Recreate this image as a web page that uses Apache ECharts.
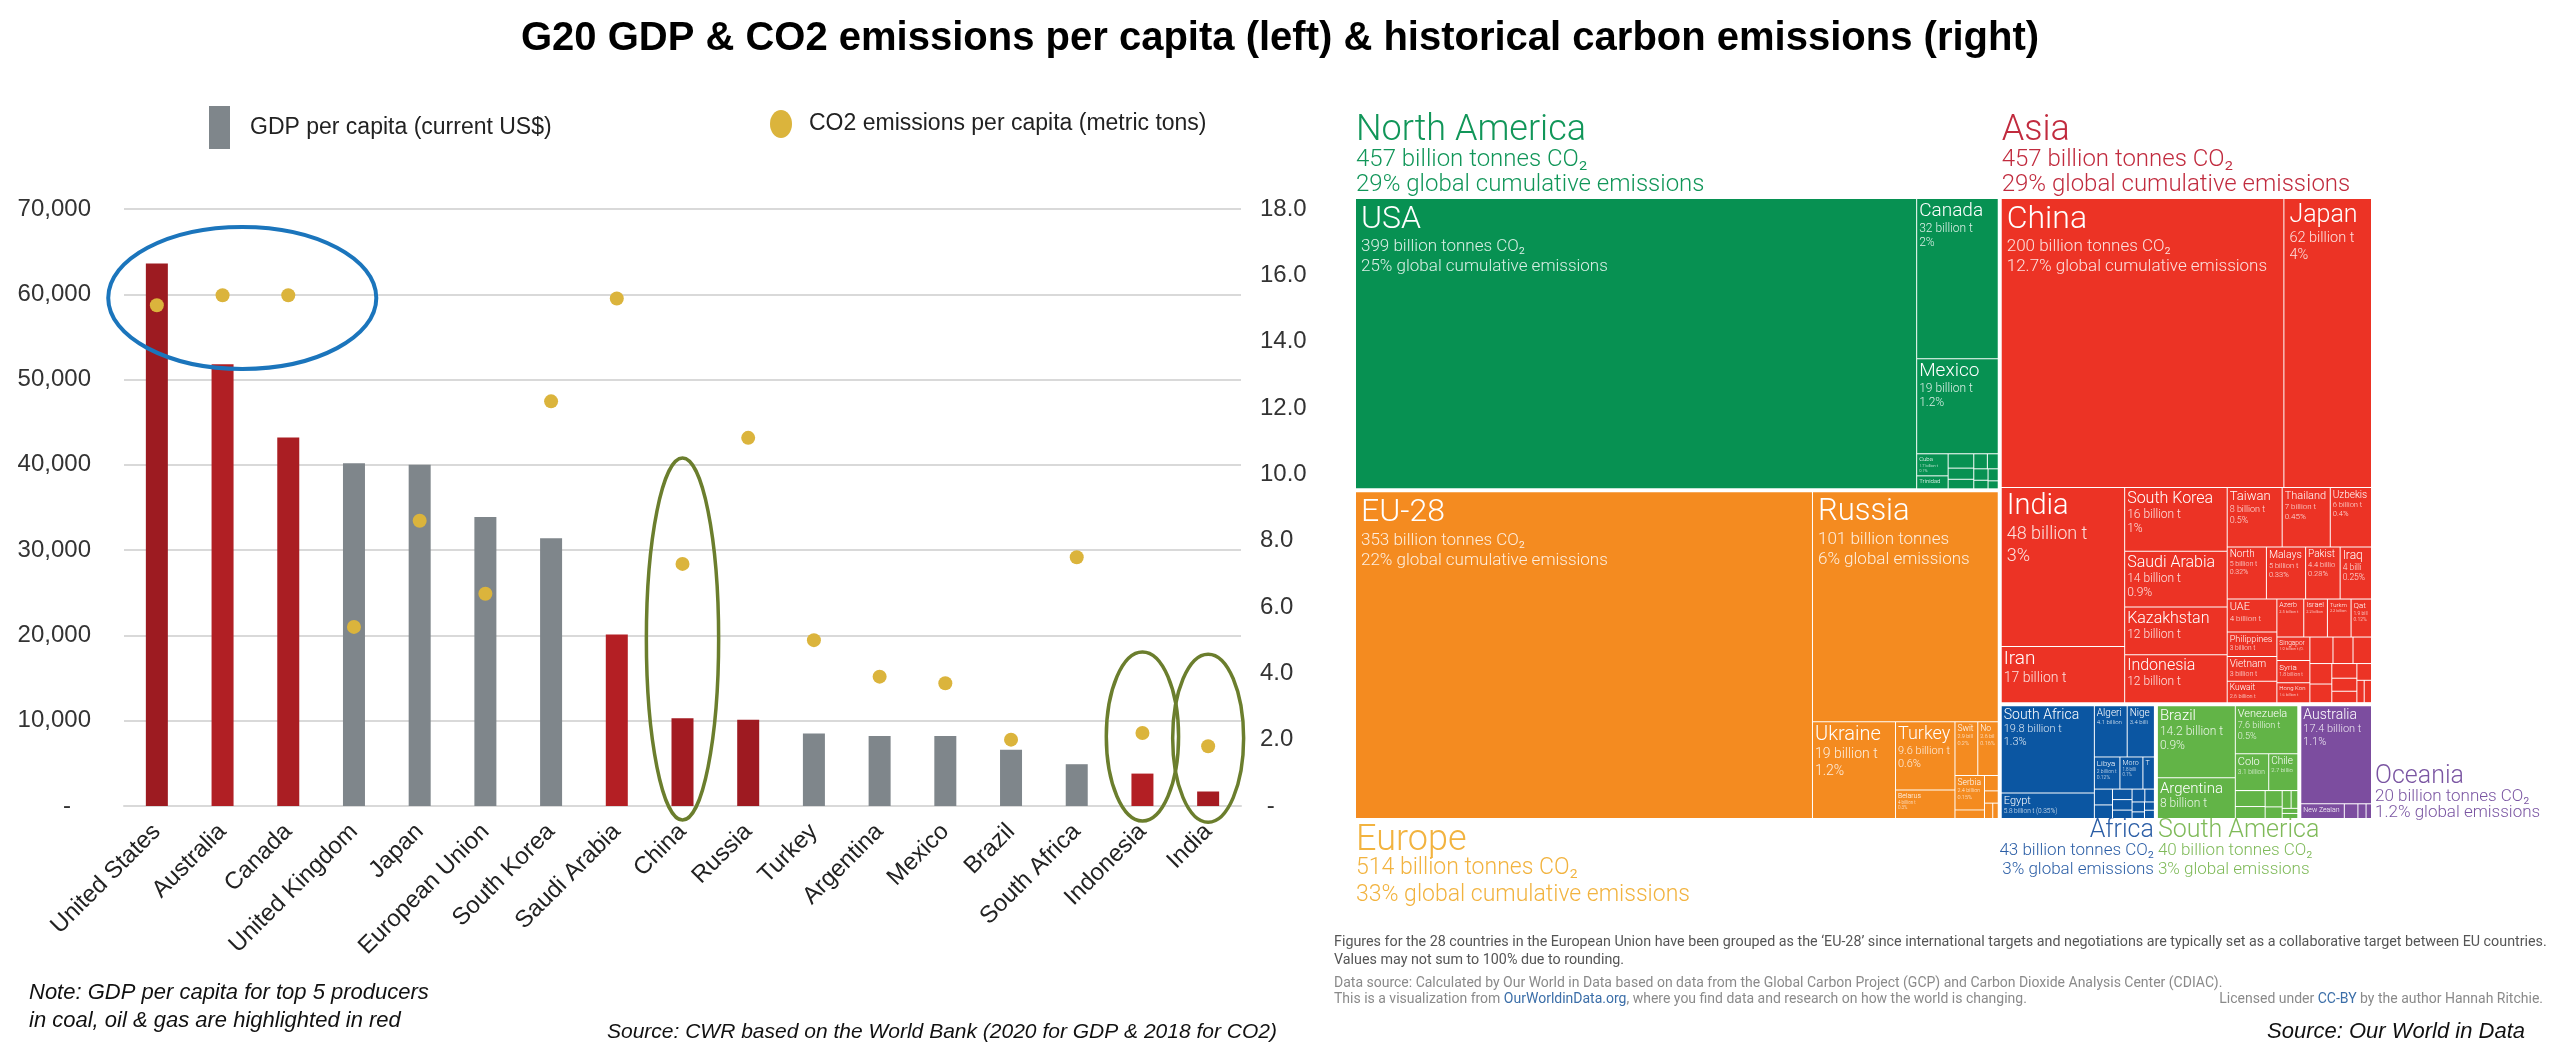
<!DOCTYPE html>
<html>
<head>
<meta charset="utf-8">
<title>G20 GDP & CO2 emissions per capita & historical carbon emissions</title>
<script src="https://cdn.jsdelivr.net/npm/echarts@6/dist/echarts.min.js"></script>
<style>
  html, body { margin: 0; padding: 0; background: #fff; }
  #main { width: 2560px; height: 1057px; }
</style>
</head>
<body>
<div id="main"></div>
<script>
// ---- left chart: G20 GDP & CO2 per capita ----
var countries = ['United States', 'Australia', 'Canada', 'United Kingdom', 'Japan', 'European Union',
  'South Korea', 'Saudi Arabia', 'China', 'Russia', 'Turkey', 'Argentina', 'Mexico', 'Brazil',
  'South Africa', 'Indonesia', 'India'];
var gdpPerCapita = [63600, 51800, 43200, 40200, 40000, 33900, 31400, 20100, 10300, 10100, 8500, 8200, 8200, 6600, 4900, 3800, 1700];
var co2PerCapita = [15.1, 15.4, 15.4, 5.4, 8.6, 6.4, 12.2, 15.3, 7.3, 11.1, 5.0, 3.9, 3.7, 2.0, 7.5, 2.2, 1.8];
// top 5 producers in coal, oil & gas (red bars)
var topProducer = [true, true, true, false, false, false, false, true, true, true, false, false, false, false, false, true, true];
var gdpTicks = [0, 10000, 70000];
var co2Ticks = [0, 2, 18];

// ---- right chart: historical carbon emissions (billion tonnes CO2) ----
var regionNames = ['North America', 'Asia', 'Europe', 'Africa', 'South America', 'Oceania'];
var regionTotals = [457, 457, 514, 43, 40, 20];
var regionLine1 = ['457 billion tonnes CO₂', '457 billion tonnes CO₂', '514 billion tonnes CO₂',
  '43 billion tonnes CO₂', '40 billion tonnes CO₂', '20 billion tonnes CO₂'];
var regionLine2 = ['29% global cumulative emissions', '29% global cumulative emissions', '33% global cumulative emissions',
  '3% global emissions', '3% global emissions', '1.2% global emissions'];

var naNames = ['USA', 'Canada', 'Mexico', 'Cuba', 'Trinidad', '', '', '', '', '', '', '', '', ''];
var naValues = [399, 32, 19, 1.7, 1.0, 0.9, 0.7, 0.6, 0.5, 0.4, 0.4, 0.3, 0.3, 0.2];
var naDetails = ['399 billion tonnes CO₂\n25% global cumulative emissions', '32 billion t\n2%', '19 billion t\n1.2%',
  '1.7 billion t\n0.1%', '1.0 billion t\n0.1%'];

var asiaNames = ['China', 'Japan', 'India', 'Iran', 'South Korea', 'Saudi Arabia', 'Indonesia', 'Kazakhstan',
  'Taiwan', 'Thailand', 'Uzbekistan', 'Malaysia', 'North Korea', 'Pakistan', 'UAE', 'Iraq', 'Vietnam',
  'Philippines', 'Kuwait', 'Azerbaijan', 'Turkmenistan', 'Israel', 'Singapore', 'Qatar', 'Syria', 'Hong Kong',
  '', '', '', '', '', '', '', '', '', '', ''];
var asiaValues = [200, 62, 48, 17, 16, 14, 12, 12, 8, 7, 6, 5, 5, 4.4, 4, 4, 3, 3, 2.6, 2.5, 2.2, 2.2, 1.9, 1.9, 1.8, 1.6,
  1.5, 1.3, 1.2, 1.1, 1.0, 0.9, 0.8, 0.7, 0.6, 0.4, 0.4];
var asiaDetails = ['200 billion tonnes CO₂\n12.7% global cumulative emissions', '62 billion t\n4%', '48 billion t\n3%',
  '17 billion t\n1%', '16 billion t\n1%', '14 billion t\n0.9%', '12 billion t\n0.8%', '12 billion t\n0.8%',
  '8 billion t\n0.5%', '7 billion t\n0.45%', '6 billion t\n0.4%', '5 billion t\n0.33%', '5 billion t\n0.32%',
  '4.4 billion t\n0.28%', '4 billion t\n0.26%', '4 billion t\n0.25%', '3 billion t\n0.2%', '3 billion t\n0.2%',
  '2.6 billion t\n0.17%', '2.5 billion t (0.16%)', '2.2 billion t (0.14%)', '2.2 billion t (0.14%)',
  '1.9 billion t (0.12%)', '1.9 billion t\n0.12%', '1.8 billion t\n0.11%', '1.6 billion t\n0.1%'];

var europeNames = ['EU-28', 'Russia', 'Ukraine', 'Turkey', 'Belarus', 'Switzerland', 'Norway', 'Serbia',
  '', '', '', '', ''];
var europeValues = [353, 101, 19, 9.6, 4, 2.9, 2.6, 2.4, 0.6, 0.5, 0.4, 0.3, 0.2];
var europeDetails = ['353 billion tonnes CO₂\n22% global cumulative emissions', '101 billion tonnes\n6% global emissions',
  '19 billion t\n1.2%', '9.6 billion t\n0.6%', '4 billion t\n0.3%', '2.9 billion t\n0.2%', '2.6 billion t\n0.16%',
  '2.4 billion t\n0.15%'];

var africaNames = ['South Africa', 'Egypt', 'Algeria', 'Nigeria', 'Libya', 'Morocco', 'Tunisia',
  '', '', '', '', '', '', '', '', '', '', ''];
var africaValues = [19.8, 5.8, 4.1, 3.4, 2, 1.8, 0.9, 0.7, 0.6, 0.5, 0.5, 0.4, 0.4, 0.3, 0.3, 0.2, 0.2, 0.2];
var africaDetails = ['19.8 billion t\n1.3%', '5.8 billion t (0.35%)', '4.1 billion t (0.26%)', '3.4 billion t (0.21%)',
  '2 billion t\n0.12%', '1.8 billion t\n0.1%'];

var southAmNames = ['Brazil', 'Argentina', 'Venezuela', 'Colombia', 'Chile', '', '', '', '', '', '', '', ''];
var southAmValues = [14.2, 8, 7.6, 3.1, 2.7, 1.2, 0.9, 0.7, 0.5, 0.4, 0.3, 0.2, 0.2];
var southAmDetails = ['14.2 billion t\n0.9%', '8 billion t\n0.5%', '7.6 billion t\n0.5%', '3.1 billion t (0.2%)',
  '2.7 billion t (0.17%)'];

var oceaniaNames = ['Australia', 'New Zealand', '', '', ''];
var oceaniaValues = [17.4, 1.6, 0.5, 0.3, 0.2];
var oceaniaDetails = ['17.4 billion t\n1.1%', '1.6 billion t (0.1%)'];

// ---- styles ----
var sansFont = '"Liberation Sans", Arial, sans-serif';
var lightFont = 'Roboto, "Liberation Sans", sans-serif';
var greyBar = '#7f868b';
var barRed = {
  'United States': '#9d1b21', 'Australia': '#b11f24', 'Canada': '#aa1e23', 'Saudi Arabia': '#b41f24',
  'China': '#a31b22', 'Russia': '#9e1a21', 'Indonesia': '#b31f24', 'India': '#a51b22'
};
var regionColors = ['#079152', '#ec3325', '#f48b20', '#0b56a2', '#62b447', '#7c4d9f'];
var regionTextColors = ['#119659', '#c12b3e', '#f2b33f', '#2b5ea6', '#7fba59', '#7a55a2'];
// [name size, detail size] per labelled cell
var cellFont = {
  'USA': [32, 17], 'China': [32, 17], 'EU-28': [32, 17], 'Russia': [31, 17], 'India': [29, 18], 'Japan': [25, 14.5],
  'Canada': [19, 12], 'Mexico': [19, 12], 'Ukraine': [20, 14], 'Turkey': [18, 11], 'Iran': [19, 14],
  'South Korea': [16, 12], 'Saudi Arabia': [16, 12], 'Indonesia': [16, 12], 'Kazakhstan': [16, 12],
  'South Africa': [14, 11], 'Brazil': [15, 12], 'Argentina': [15, 12], 'Australia': [14, 11], 'Venezuela': [11, 9],
  'Taiwan': [13, 9], 'Thailand': [11, 8], 'Uzbekistan': [10, 7.5], 'Iraq': [12, 8.5], 'Malaysia': [10.5, 7.5],
  'North Korea': [10, 7], 'Pakistan': [10, 7.5], 'UAE': [11, 8], 'Vietnam': [10, 7], 'Philippines': [9, 6.5],
  'Egypt': [11, 6.5], 'Algeria': [10, 6], 'Nigeria': [10, 6], 'Colombia': [11, 6.5], 'Chile': [10, 6],
  'Kuwait': [8.5, 5.5], 'Switzerland': [8.5, 5.5], 'Serbia': [8.5, 5.5], 'Norway': [8.5, 5.5], 'Libya': [8, 5],
  'Qatar': [8, 5], 'Syria': [8, 5], 'Azerbaijan': [7, 4], 'Israel': [7.5, 4], 'Belarus': [7, 4.5],
  'Morocco': [7, 4.5], 'Tunisia': [7, 4.5], 'Singapore': [6.5, 4], 'Turkmenistan': [6, 4], 'Hong Kong': [6, 4],
  'Cuba': [6, 4], 'Trinidad': [6, 4], 'New Zealand': [7, 4]
};

// treemap area and region boxes (slice layout from region totals)
var mapArea = { x: 1356, y: 199, w: 1015, h: 619 };
var regionGap = 4;

function regionBoxes() {
  var t = regionTotals, g = regionGap;
  var leftSum = t[0] + t[2], rightSum = t[1] + t[3] + t[4] + t[5], bottomSum = t[3] + t[4] + t[5];
  var lw = mapArea.w * leftSum / (leftSum + rightSum);
  var rw = mapArea.w - lw;
  var naH = mapArea.h * t[0] / leftSum;
  var asH = mapArea.h * t[1] / rightSum;
  var b = [];
  b[0] = { x: mapArea.x, y: mapArea.y, w: lw - g / 2, h: naH - g / 2 };
  b[2] = { x: mapArea.x, y: mapArea.y + naH + g / 2, w: lw - g / 2, h: mapArea.h - naH - g / 2 };
  b[1] = { x: mapArea.x + lw + g / 2, y: mapArea.y, w: rw - g / 2, h: asH - g / 2 };
  var cx = mapArea.x + lw + g / 2, by = mapArea.y + asH + g / 2, bh = mapArea.h - asH - g / 2;
  var bw = rw - g / 2;
  [3, 4, 5].forEach(function (i, k) {
    var share = bw * t[i] / bottomSum;
    var padL = k > 0 ? g / 2 : 0, padR = k < 2 ? g / 2 : 0;
    b[i] = { x: cx + padL, y: by, w: share - padL - padR, h: bh };
    cx += share;
  });
  return b;
}

function cells(names, values, details, color) {
  return values.map(function (v, i) {
    var name = names[i] || '';
    var f = cellFont[name] || [6, 4];
    return {
      name: name,
      value: v,
      detail: details[i] || '',
      itemStyle: { color: color },
      label: {
        padding: f[0] >= 24 ? [3, 5] : [2, 2],
        rich: {
          n: { fontSize: f[0], lineHeight: Math.round(f[0] * 1.1), color: '#fff', fontFamily: lightFont, fontWeight: 300 },
          d: { fontSize: f[1], lineHeight: Math.round(f[1] * 1.2), color: 'rgba(255,255,255,0.85)', fontFamily: lightFont, fontWeight: 300 }
        }
      }
    };
  });
}

function treemapSeries(box, data) {
  return {
    type: 'treemap',
    left: box.x, top: box.y, width: box.w, height: box.h,
    roam: false,
    nodeClick: false,
    breadcrumb: { show: false },
    animation: false,
    visibleMin: 0,
    levels: [{ itemStyle: { borderWidth: 0, gapWidth: 1, borderColor: '#fff' } }],
    itemStyle: { borderWidth: 0 },
    emphasis: { disabled: true },
    label: {
      show: true,
      position: 'insideTopLeft',
      overflow: 'truncate',
      ellipsis: '',
      formatter: function (p) {
        var s = '{n|' + p.name + '}';
        var d = p.data.detail;
        if (d) {
          s += '\n' + d.split('\n').map(function (l) { return '{d|' + l + '}'; }).join('\n');
        }
        return s;
      }
    },
    data: data
  };
}

var boxes = regionBoxes();
var regionCells = [
  cells(naNames, naValues, naDetails, regionColors[0]),
  cells(asiaNames, asiaValues, asiaDetails, regionColors[1]),
  cells(europeNames, europeValues, europeDetails, regionColors[2]),
  cells(africaNames, africaValues, africaDetails, regionColors[3]),
  cells(southAmNames, southAmValues, southAmDetails, regionColors[4]),
  cells(oceaniaNames, oceaniaValues, oceaniaDetails, regionColors[5])
];

var chart = echarts.init(document.getElementById('main'));

var option = {
  backgroundColor: '#fff',
  animation: false,
  title: {
    text: 'G20 GDP & CO2 emissions per capita (left) & historical carbon emissions (right)',
    left: 'center',
    top: 14,
    textStyle: { fontFamily: sansFont, fontSize: 40, fontWeight: 'bold', color: '#000' }
  },
  legend: [{
    left: 204, top: 101,
    icon: 'rect', itemWidth: 21, itemHeight: 43,
    selectedMode: false,
    textStyle: { fontFamily: sansFont, fontSize: 23, color: '#222', padding: [0, 0, 0, 15] },
    data: ['GDP per capita (current US$)']
  }, {
    left: 765, top: 105,
    icon: 'path://M1,0A1,1 0 1,1 1,2A1,1 0 1,1 1,0Z', itemWidth: 22, itemHeight: 28,
    symbolKeepAspect: false,
    selectedMode: false,
    textStyle: { fontFamily: sansFont, fontSize: 23, color: '#222', padding: [0, 0, 0, 12] },
    data: ['CO2 emissions per capita (metric tons)']
  }],
  grid: { left: 124, right: 1319, top: 209, bottom: 251, containLabel: false, outerBoundsMode: 'none' },
  xAxis: {
    type: 'category',
    data: countries,
    axisLine: { lineStyle: { color: '#d9d9d9', width: 2 } },
    axisTick: { show: false },
    axisLabel: { rotate: 45, interval: 0, margin: 22, fontFamily: sansFont, fontSize: 24, color: '#222' }
  },
  yAxis: [{
    type: 'value',
    min: gdpTicks[0], max: gdpTicks[2], interval: gdpTicks[1],
    axisLine: { show: false },
    axisTick: { show: false },
    splitLine: { lineStyle: { color: '#d9d9d9', width: 2 } },
    axisLabel: {
      margin: 33, fontFamily: sansFont, fontSize: 24, color: '#333',
      formatter: function (v) { return v === 0 ? '-   ' : v.toLocaleString('en-US'); }
    }
  }, {
    type: 'value',
    position: 'right',
    min: co2Ticks[0], max: co2Ticks[2], interval: co2Ticks[1],
    axisLine: { show: false },
    axisTick: { show: false },
    splitLine: { show: false },
    axisLabel: {
      margin: 19, fontFamily: sansFont, fontSize: 24, color: '#333',
      formatter: function (v) { return v === 0 ? ' -' : v.toFixed(1); }
    }
  }],
  series: [{
    name: 'GDP per capita (current US$)',
    type: 'bar',
    barWidth: 22,
    itemStyle: { color: greyBar },
    data: gdpPerCapita.map(function (v, i) {
      return topProducer[i] ? { value: v, itemStyle: { color: barRed[countries[i]] } } : v;
    }),
    z: 2
  }, {
    name: 'CO2 emissions per capita (metric tons)',
    type: 'scatter',
    yAxisIndex: 1,
    symbolSize: 14,
    itemStyle: { color: '#dbb43c', opacity: 1 },
    data: co2PerCapita,
    z: 3
  }].concat(regionCells.map(function (d, i) { return treemapSeries(boxes[i], d); }))
};

chart.setOption(option);

// ---- annotation ellipses, placed in data coordinates ----
var highlights = [
  { cat: 1.3, half: 2.04, top: 67900, bottom: 51250, color: '#1b75bc', width: 4 },
  { cat: 8, half: 0.55, top: 40800, bottom: -1650, color: '#6b7e2d', width: 3.5 },
  { cat: 15, half: 0.55, top: 18050, bottom: -1750, color: '#6b7e2d', width: 3.5 },
  { cat: 16, half: 0.54, top: 17800, bottom: -1900, color: '#6b7e2d', width: 3.5 }
];
var x0 = chart.convertToPixel({ seriesIndex: 0 }, [countries[0], 0])[0];
var step = chart.convertToPixel({ seriesIndex: 0 }, [countries[1], 0])[0] - x0;
function yPix(v) { return chart.convertToPixel({ seriesIndex: 0 }, [countries[0], v])[1]; }

var graphics = highlights.map(function (h) {
  var yt = yPix(h.top), yb = yPix(h.bottom);
  return {
    type: 'ellipse', z: 10, silent: true,
    shape: { cx: x0 + h.cat * step, cy: (yt + yb) / 2, rx: h.half * step, ry: (yb - yt) / 2 },
    style: { fill: 'none', stroke: h.color, lineWidth: h.width }
  };
});

// region labels around the treemap boxes
function regionLabel(i, x, y, align, big, small, gap1, gap2) {
  var c = regionTextColors[i];
  var common = { fontFamily: lightFont, fontWeight: 300, fill: c, align: align, verticalAlign: 'middle' };
  return [
    { type: 'text', x: x, y: y, style: Object.assign({ text: regionNames[i], fontSize: big }, common) },
    { type: 'text', x: x, y: y + gap1, style: Object.assign({ text: regionLine1[i], fontSize: small }, common) },
    { type: 'text', x: x, y: y + gap1 + gap2, style: Object.assign({ text: regionLine2[i], fontSize: small }, common) }
  ];
}
var b = boxes;
graphics = graphics
  .concat(regionLabel(0, b[0].x, b[0].y - 68, 'left', 36, 24, 29, 25))
  .concat(regionLabel(1, b[1].x, b[1].y - 68, 'left', 36, 24, 29, 25))
  .concat(regionLabel(2, b[2].x, b[2].y + b[2].h + 23, 'left', 36, 23, 27, 27))
  .concat(regionLabel(3, b[3].x + b[3].w, b[3].y + b[3].h + 13, 'right', 25, 17, 20, 19))
  .concat(regionLabel(4, b[4].x, b[4].y + b[4].h + 13, 'left', 25, 17, 20, 19))
  .concat(regionLabel(5, b[5].x + b[5].w + 4, b[5].y + b[5].h - 41, 'left', 25, 17, 20, 16));

// footnotes
var noteFont = lightFont;
function noteText(x, y, text, opts) {
  return { type: 'text', x: x, y: y, silent: true,
    style: Object.assign({ text: text, fontFamily: sansFont, fontSize: 20, fill: '#111', verticalAlign: 'middle' }, opts || {}) };
}
var linkRich = { b: { fill: '#3b6ea8', fontFamily: noteFont, fontSize: 14 } };
graphics = graphics.concat([
  noteText(29, 993, 'Note: GDP per capita for top 5 producers', { fontStyle: 'italic', fontSize: 22 }),
  noteText(29, 1021, 'in coal, oil & gas are highlighted in red', { fontStyle: 'italic', fontSize: 22 }),
  noteText(607, 1032, 'Source: CWR based on the World Bank (2020 for GDP & 2018 for CO2)', { fontStyle: 'italic', fontSize: 21 }),
  noteText(2525, 1032, 'Source: Our World in Data', { fontStyle: 'italic', fontSize: 22, align: 'right' }),
  noteText(1334, 942, 'Figures for the 28 countries in the European Union have been grouped as the ‘EU-28’ since international targets and negotiations are typically set as a collaborative target between EU countries.',
    { fontFamily: noteFont, fontSize: 14.3, fill: '#555' }),
  noteText(1334, 960, 'Values may not sum to 100% due to rounding.', { fontFamily: noteFont, fontSize: 14.3, fill: '#555' }),
  noteText(1334, 983, 'Data source: Calculated by Our World in Data based on data from the Global Carbon Project (GCP) and Carbon Dioxide Analysis Center (CDIAC).',
    { fontFamily: noteFont, fontSize: 14, fill: '#8a8a8a' }),
  noteText(1334, 999, 'This is a visualization from {b|OurWorldinData.org}, where you find data and research on how the world is changing.',
    { fontFamily: noteFont, fontSize: 14, fill: '#8a8a8a', rich: linkRich }),
  noteText(2543, 999, 'Licensed under {b|CC-BY} by the author Hannah Ritchie.',
    { fontFamily: noteFont, fontSize: 14, fill: '#8a8a8a', align: 'right', rich: linkRich })
]);

chart.setOption({ graphic: graphics });
</script>
</body>
</html>
